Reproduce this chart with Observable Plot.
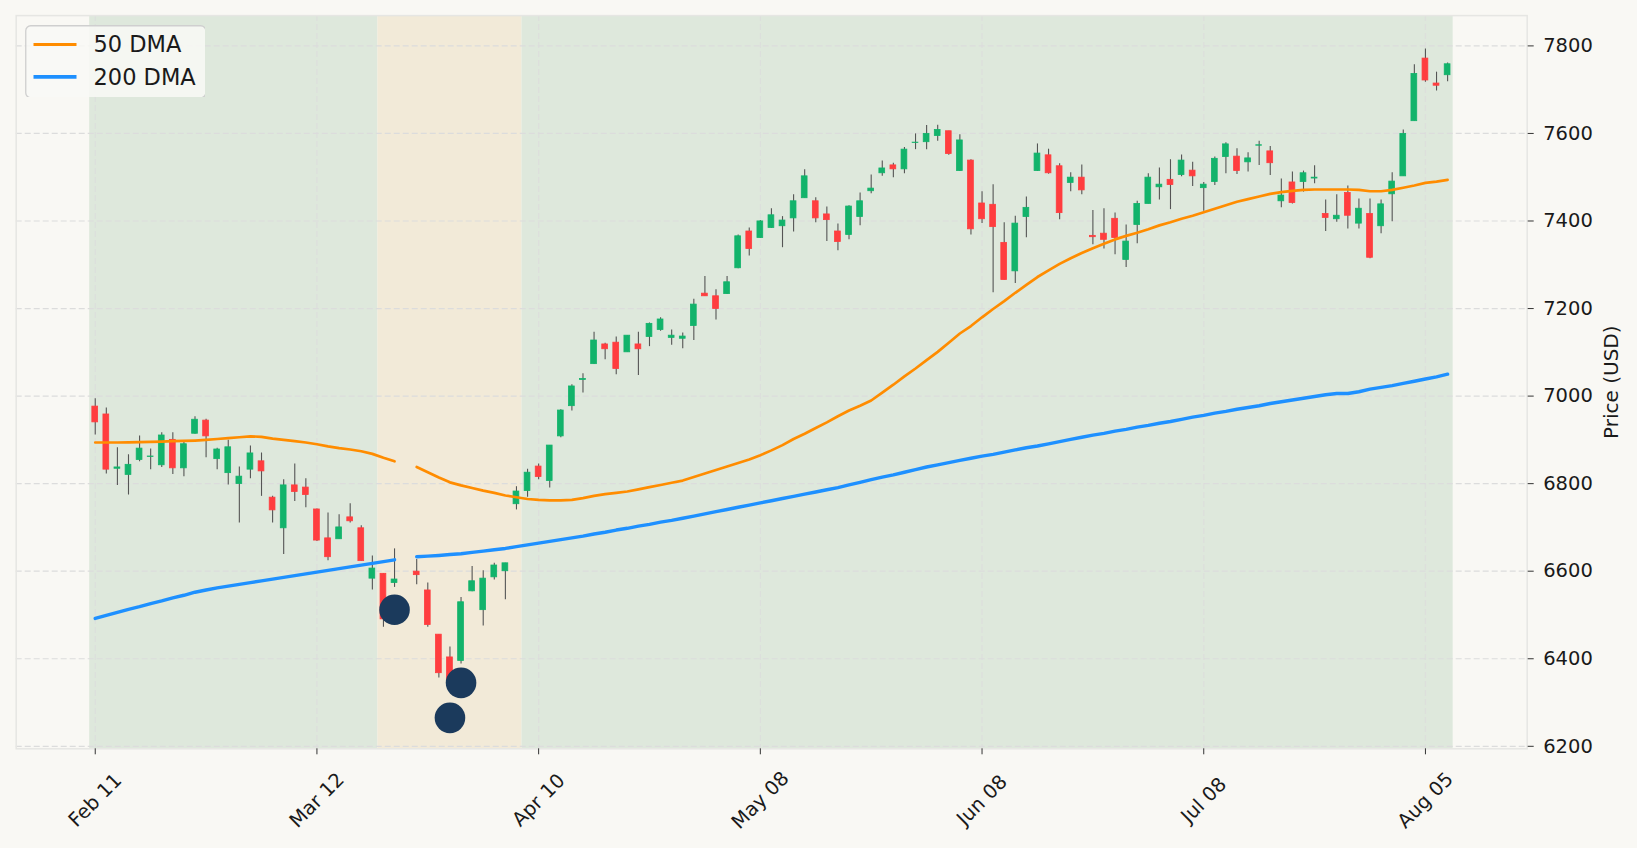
<!DOCTYPE html>
<html>
<head>
<meta charset="utf-8">
<script src="https://cdn.jsdelivr.net/npm/d3@7"></script>
<script src="https://cdn.jsdelivr.net/npm/@observablehq/plot@0.6"></script>
<style>
  html, body { margin: 0; padding: 0; background: #f9f8f4; }
  #wrap { position: relative; width: 1637px; height: 848px; font-family: "DejaVu Sans", sans-serif; }
  #wrap svg.plot { position: absolute; left: 0; top: 0; }
  #legend { position: absolute; left: 25px; top: 25px; width: 180px; height: 72px; z-index: 5; }
</style>
</head>
<body>
<div id="wrap"></div>
<script>
// ---- Data (index = trading day, 0 = Feb 11; index 28 has no data) ----
const xTicks = [0, 20, 40, 60, 80, 100, 120];
const xLabels = ["Feb 11", "Mar 12", "Apr 10", "May 08", "Jun 08", "Jul 08", "Aug 05"];
const yTicks = [6200, 6400, 6600, 6800, 7000, 7200, 7400, 7600, 7800];

const openP = [6976,6958,6834,6820,6854,6861,6842,6900,6835,6914, 6944,6856,6824,6799,6832,6851,6768,6698,6796,6791,
  6741,6675,6673,6723,6698,6583,6594,6573,null,6599, 6556,6455,6403,6395,6554,6511,6586,6600,6753,6783,
  6839,6806,6908,6977,7037,7073,7118,7122,7100,7118, 7135,7151,7133,7131,7160,7234,7228,7233,7292,7376,
  7361,7384,7388,7406,7452,7445,7415,7376,7368,7409, 7468,7509,7527,7518,7578,7580,7594,7605,7514,7538,
  7440,7437,7350,7285,7409,7514,7550,7525,7487,7499, 7366,7371,7405,7311,7391,7439,7477,7494,7505,7515,
  7475,7489,7546,7547,7534,7572,7559,7445,7488,7489, 7497,7416,7404,7464,7394,7416,7388,7461,7502,7628,
  7771,7714,7733];
const highP = [6994,6973,6882,6866,6909,6879,6916,6916,6894,6953, 6947,6881,6899,6838,6886,6870,6771,6809,6845,6811,
  6742,6733,6729,6754,6704,6635,6594,6651,null,6627, 6573,6455,6427,6540,6611,6601,6618,6618,6793,6833,
  6845,6887,6969,7026,7051,7146,7121,7135,7138,7146, 7167,7179,7151,7144,7221,7273,7243,7273,7368,7384,
  7401,7428,7410,7460,7517,7453,7432,7393,7435,7464, 7505,7537,7532,7568,7599,7618,7619,7605,7597,7540,
  7467,7483,7396,7411,7455,7576,7564,7531,7510,7528, 7424,7428,7418,7391,7445,7508,7521,7540,7551,7534,
  7488,7546,7579,7565,7556,7582,7570,7496,7512,7514, 7526,7448,7460,7480,7450,7450,7448,7510,7608,7757,
  7793,7740,7761];
const lowP = [6911,6822,6796,6774,6850,6832,6837,6821,6816,6913, 6859,6832,6797,6710,6811,6771,6710,6638,6759,6745,
  6668,6624,6673,6710,6622,6557,6472,6563,null,6569, 6472,6356,6330,6388,6553,6475,6580,6535,6740,6769,
  6809,6790,6905,6966,7007,7072,7083,7049,7100,7047, 7113,7148,7116,7108,7127,7228,7174,7232,7291,7320,
  7360,7383,7339,7375,7452,7396,7353,7332,7357,7389, 7462,7502,7499,7508,7563,7563,7582,7550,7513,7368,
  7394,7236,7265,7257,7362,7513,7507,7403,7467,7460, 7346,7336,7323,7294,7348,7439,7448,7426,7501,7479,
  7422,7481,7508,7506,7512,7527,7504,7430,7439,7466, 7485,7376,7397,7382,7382,7314,7371,7398,7502,7628,
  7717,7697,7718];
const closeP = [6940,6832,6837,6843,6880,6862,6910,6835,6890,6946, 6908,6878,6883,6816,6869,6828,6739,6796,6781,6774,
  6670,6632,6700,6714,6623,6606,6490,6581,null,6591, 6477,6367,6350,6529,6577,6583,6613,6618,6782,6825,
  6815,6887,6967,7022,7039,7127,7107,7062,7138,7107, 7165,7175,7138,7136,7209,7228,7199,7260,7365,7336,
  7399,7413,7401,7445,7502,7406,7402,7352,7433,7445, 7474,7520,7518,7563,7579,7599,7608,7553,7584,7381,
  7404,7386,7265,7394,7430,7554,7509,7418,7499,7470, 7363,7357,7361,7353,7439,7499,7483,7482,7538,7502,
  7483,7542,7575,7514,7543,7573,7532,7458,7441,7509, 7499,7407,7412,7412,7428,7316,7438,7490,7599,7736,
  7721,7709,7758];

const ma50 = [6894,6894,6894,6894.5,6895,6895.5,6896,6897,6897.5,6898.5, 6900,6902,6904,6906,6908,6907,6903,6900,6897,6894,
  6890,6885,6881,6878,6874,6868,6859,6851,null,6838, 6826,6814,6803,6796,6790,6784,6779,6773,6769,6765,
  6763,6762,6762,6763,6767,6772,6776,6779,6782,6787, 6792,6797,6802,6807,6815,6823,6831,6839,6847,6855,
  6865,6876,6888,6902,6914,6927,6940,6954,6967,6978, 6990,7008,7026,7045,7063,7082,7101,7122,7143,7160,
  7180,7199,7217,7236,7254,7272,7287,7302,7315,7327, 7338,7348,7358,7366,7373,7381,7390,7397,7405,7412,
  7420,7428,7436,7444,7450,7456,7462,7466,7469,7471, 7472,7472,7472,7472,7471,7468,7468,7471,7476,7481,
  7487,7490,7494];
const ma200 = [6492,6499,6506,6513,6519,6526,6532,6539,6545,6552, 6557,6562,6566,6570,6574,6578,6582,6586,6590,6594,
  6598,6602,6606,6610,6614,6618,6622,6626,null,6633, 6634.5,6636,6638,6640,6643,6646,6649,6652,6656,6660,
  6664,6668,6672,6676,6680,6685,6689,6694,6698,6703, 6707,6712,6716,6721,6726,6731,6736,6741,6746,6751,
  6756,6761,6766,6771,6776,6781,6786,6791,6797,6803, 6809,6815,6820,6826,6832,6838,6843,6848,6853,6858,
  6863,6867,6872,6877,6882,6886,6891,6896,6901,6906, 6911,6915,6920,6924,6929,6933,6938,6942,6947,6952,
  6956,6961,6965,6970,6974,6978,6983,6987,6991,6995, 6999,7003,7006,7006,7010,7016,7020,7024,7029,7034,
  7039,7044,7050];

// Regime shading spans (index units)
const spanStart = [-0.5, 25.5, 38.5];
const spanEnd = [25.5, 38.5, 122.5];
const spanKind = ["bull", "caution", "bull"];

// Signal markers
const sigIndex = [27, 32, 33];
const sigPrice = [6512, 6265, 6345];

// ---- Build tables ----
const candles = openP.map((o, i) => ({i, open: o, high: highP[i], low: lowP[i], close: closeP[i]}))
  .filter(d => d.open != null);
const maTable = ma50.map((v, i) => ({i, ma50: v, ma200: ma200[i]}));
const spans = spanStart.map((s, k) => ({x1: s, x2: spanEnd[k], kind: spanKind[k]}));
const signals = sigIndex.map((x, k) => ({x, y: sigPrice[k]}));

const UP = "#12b36b", DOWN = "#ff3d3f";
const spanFill = {bull: "#dee8dc", caution: "#f2ead8"};
const xDomain = [-7.13, 129.18];
const yDomain = [6194.3, 7869.2];

const chart = Plot.plot({
  width: 1637,
  height: 848,
  marginLeft: 15.7,
  marginRight: 110.3,
  marginTop: 15.1,
  marginBottom: 99.7,
  style: {background: "transparent", fontFamily: "DejaVu Sans, sans-serif", color: "#1a1a1a"},
  x: {type: "linear", domain: xDomain, axis: null},
  y: {type: "linear", domain: yDomain, axis: null},
  marks: [
    Plot.rect(spans, {x1: "x1", x2: "x2", y1: yDomain[0], y2: yDomain[1], fill: d => spanFill[d.kind]}),
    Plot.gridY(yTicks, {stroke: "#dcdcdc", strokeOpacity: 1, strokeWidth: 1.2, strokeDasharray: "6,3"}),
    Plot.gridX(xTicks, {stroke: "#dcdcdc", strokeOpacity: 0.8, strokeWidth: 1.2, strokeDasharray: "6,3"}),
    Plot.frame({stroke: "#e6e6e3", strokeWidth: 1.5}),
    Plot.ruleX(candles, {x: "i", y1: "low", y2: "high", stroke: "#555555", strokeWidth: 1.1}),
    Plot.rect(candles, {
      x1: d => d.i - 0.26, x2: d => d.i + 0.26,
      y1: d => Math.min(d.open, d.close), y2: d => Math.max(d.open, d.close),
      fill: d => d.close >= d.open ? UP : DOWN,
      stroke: d => d.close >= d.open ? UP : DOWN,
      strokeWidth: 0.8
    }),
    Plot.line(maTable, {x: "i", y: "ma50", stroke: "#ff8c00", strokeWidth: 2.7}),
    Plot.line(maTable, {x: "i", y: "ma200", stroke: "#1e90ff", strokeWidth: 3.4}),
    Plot.dot(signals, {x: "x", y: "y", r: 15.3, fill: "#1b3a5c", stroke: "none"}),
    Plot.axisY({anchor: "right", ticks: yTicks, tickSize: 6, tickPadding: 10, tickFormat: "d",
      fontSize: 19.5, label: null, stroke: "#333", fill: "#1a1a1a"}),
    Plot.axisX({anchor: "bottom", ticks: xTicks, tickSize: 6, tickFormat: () => "", label: null, stroke: "#333"}),
    Plot.text(xTicks, {x: d => d, text: (d, k) => xLabels[k], frameAnchor: "bottom", dy: 51.5,
      rotate: -45, textAnchor: "middle", lineAnchor: "middle", fontSize: 19.5, fill: "#1a1a1a"}),
    Plot.text(["Price (USD)"], {text: d => d, frameAnchor: "right", dx: 84.3, rotate: -90,
      textAnchor: "middle", lineAnchor: "middle", fontSize: 20, fill: "#1a1a1a"})
  ]
});
chart.classList.add("plot");
const wrap = document.getElementById("wrap");
wrap.appendChild(chart);

// ---- Legend ----
const legendItems = [
  {label: "50 DMA", color: "#ff8c00", width: 2.9},
  {label: "200 DMA", color: "#1e90ff", width: 3.8}
];
const ns = "http://www.w3.org/2000/svg";
const lg = document.createElementNS(ns, "svg");
lg.setAttribute("id", "legend");
lg.setAttribute("width", "182");
lg.setAttribute("height", "74");
const box = document.createElementNS(ns, "rect");
box.setAttribute("x", "0.75"); box.setAttribute("y", "0.75");
box.setAttribute("width", "180"); box.setAttribute("height", "72");
box.setAttribute("rx", "5");
box.setAttribute("fill", "rgba(249,249,246,0.85)");
box.setAttribute("stroke", "#cfcfcf");
box.setAttribute("stroke-width", "1.3");
lg.appendChild(box);
legendItems.forEach((it, k) => {
  const yLine = 19.5 + k * 32.4;
  const ln = document.createElementNS(ns, "line");
  ln.setAttribute("x1", "8.5"); ln.setAttribute("x2", "51.5");
  ln.setAttribute("y1", yLine); ln.setAttribute("y2", yLine);
  ln.setAttribute("stroke", it.color); ln.setAttribute("stroke-width", it.width);
  lg.appendChild(ln);
  const tx = document.createElementNS(ns, "text");
  tx.setAttribute("x", "68.5");
  tx.setAttribute("y", yLine + 7.7);
  tx.setAttribute("font-family", "DejaVu Sans, sans-serif");
  tx.setAttribute("font-size", "22.5");
  tx.setAttribute("fill", "#1a1a1a");
  tx.textContent = it.label;
  lg.appendChild(tx);
});
wrap.appendChild(lg);
</script>
</body>
</html>
